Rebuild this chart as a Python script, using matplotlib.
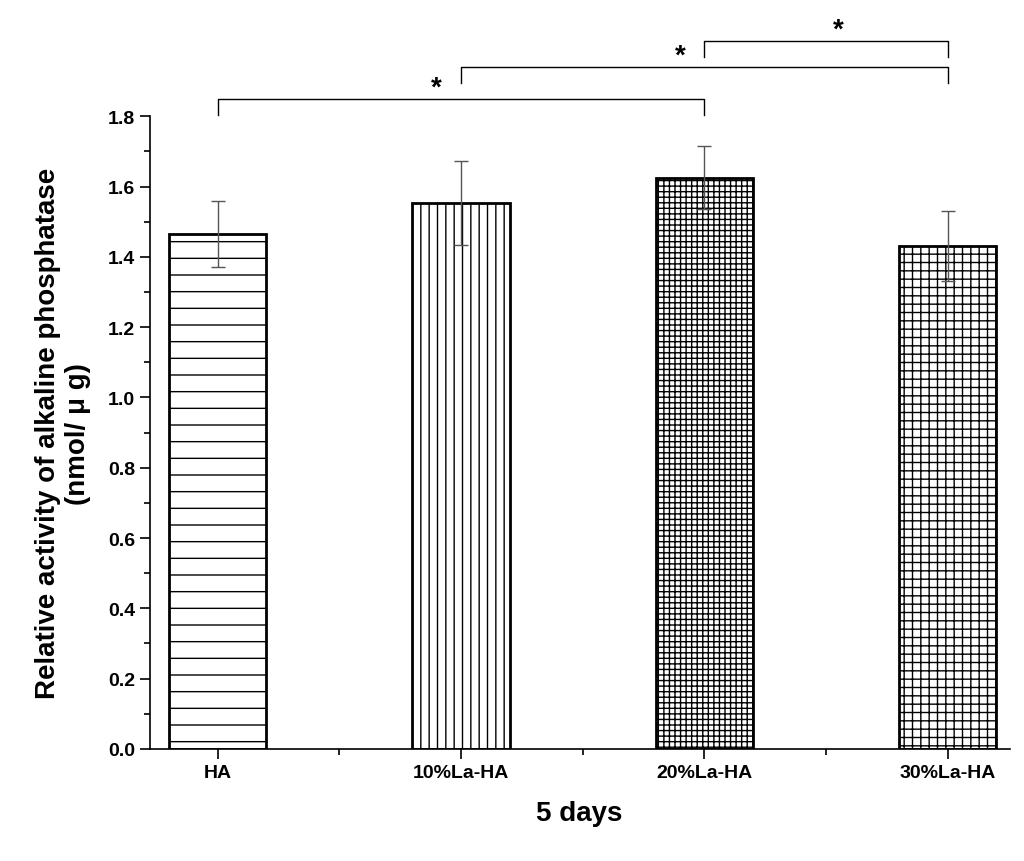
import matplotlib.pyplot as plt
import numpy as np

plt.rcParams['font.family'] = 'Liberation Sans'
plt.rcParams['hatch.linewidth'] = 1.0

groups = ['HA', '10%La-HA', '20%La-HA', '30%La-HA']
means = [1.465, 1.553, 1.625, 1.43]
errs = [0.095, 0.12, 0.09, 0.10]
hatches = ['-', '||', '+++', '++']
# significance brackets: (left group, right group, height, star x)
brackets = [(0, 2, 1.848, 0.9), (1, 3, 1.94, 1.9), (2, 3, 2.013, 2.55)]

fig = plt.figure(figsize=(10.24, 8.62), dpi=100)
ax = fig.add_axes([0.146, 0.130, 0.84, 0.734])

x = np.arange(len(groups))
ax.bar(x, means, width=0.4, color='white', edgecolor='black', linewidth=2,
       hatch=hatches, zorder=2)
ax.errorbar(x, means, yerr=errs, fmt='none', ecolor='#555555', elinewidth=1,
            capsize=5, capthick=1, zorder=3)

for a, b, h, sx in brackets:
    ax.plot([a, a, b, b], [h - 0.045, h, h, h - 0.045], color='black', lw=1, clip_on=False)
    ax.text(sx, h - 0.005, '*', ha='center', va='bottom', fontsize=20, fontweight='bold')

ax.set_xlim(-0.28, 3.255)
ax.set_ylim(0, 1.8)
ax.set_yticks(np.arange(0, 1.81, 0.2))
ax.set_yticks(np.arange(0, 1.81, 0.1), minor=True)
ax.set_xticks(x)
ax.set_xticks(x[:-1] + 0.5, minor=True)
ax.set_xticklabels(groups, fontsize=14, fontweight='bold')
for lab in ax.get_yticklabels():
    lab.set_fontsize(14)
    lab.set_fontweight('bold')
ax.tick_params(axis='both', which='major', length=7, width=1.2)
ax.tick_params(axis='both', which='minor', length=4, width=1.2)
ax.spines['top'].set_visible(False)
ax.spines['right'].set_visible(False)
ax.spines['left'].set_linewidth(1.2)
ax.spines['bottom'].set_linewidth(1.2)

ax.set_xlabel('5 days', fontsize=20, fontweight='bold', labelpad=14)
ax.set_ylabel('Relative activity of alkaline phosphatase\n(nmol/ \u03bc g)', fontsize=20,
              fontweight='bold', labelpad=12)

fig.savefig('out.png', dpi=100)
